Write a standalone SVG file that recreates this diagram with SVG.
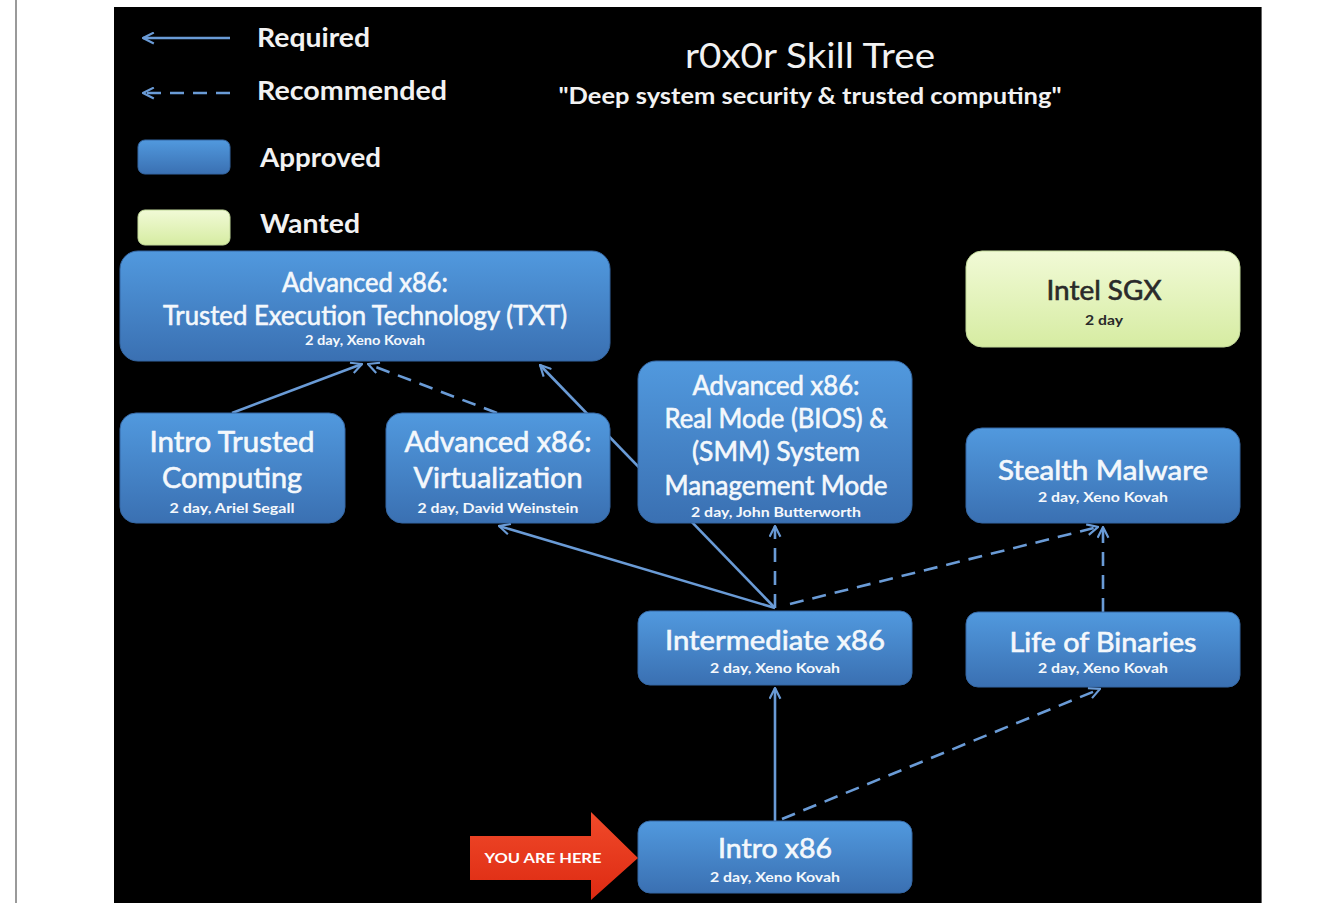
<svg xmlns="http://www.w3.org/2000/svg" width="1338" height="903" viewBox="0 0 1338 903">
<defs>
<linearGradient id="blue" x1="0" y1="0" x2="0" y2="1">
<stop offset="0" stop-color="#5199de"/>
<stop offset="1" stop-color="#3a70b2"/>
</linearGradient>
<linearGradient id="green" x1="0" y1="0" x2="0" y2="1">
<stop offset="0" stop-color="#f1fad6"/>
<stop offset="1" stop-color="#d6eca2"/>
</linearGradient>
<linearGradient id="red" x1="0" y1="0" x2="0" y2="1">
<stop offset="0" stop-color="#f04a2a"/>
<stop offset="1" stop-color="#dd2a12"/>
</linearGradient>
<marker id="ah" viewBox="0 0 12 12" refX="11" refY="6" markerWidth="5" markerHeight="5" orient="auto" markerUnits="strokeWidth">
<path d="M1,1 L11,6 L1,11" fill="none" stroke="#6a9bd6" stroke-width="2"/>
</marker>
</defs>
<style>
.bg{fill:#000}
.node{fill:url(#blue);stroke:#3567a3;stroke-width:1}
.want{fill:url(#green);stroke:#c2d99a;stroke-width:1}
.t{font-family:Lato,"Open Sans","Liberation Sans",sans-serif;fill:#f4f8fc;text-anchor:middle}
.big{font-size:28px;stroke:#f4f8fc;stroke-width:0.6}
.mid{font-size:26px;stroke:#f4f8fc;stroke-width:0.6}
.sm{font-size:12.5px;font-weight:bold}
.dark{fill:#2a2a2a;stroke:#2a2a2a}
.leg{font-family:Lato,"Open Sans","Liberation Sans",sans-serif;fill:#f2f2f2;font-size:27px;font-weight:bold}
.title{font-family:Lato,"Open Sans","Liberation Sans",sans-serif;fill:#f2f2f2;text-anchor:middle}
.c{fill:none;stroke:#6a9bd6;stroke-width:2.6;marker-end:url(#ah)}
.d{stroke-dasharray:14 9}
</style>
<rect x="0" y="0" width="1338" height="903" fill="#fff"/>
<rect x="15" y="0" width="2" height="903" fill="#9a9a9a"/>
<rect class="bg" x="114" y="7" width="1148" height="896"/>
<rect x="1261" y="7" width="1" height="896" fill="#666"/>

<g id="legend">
<line class="c" x1="230" y1="38" x2="143" y2="38"/>
<line class="c d" x1="230" y1="93" x2="143" y2="93" stroke-dasharray="12 10"/>
<rect class="node" x="138" y="140" width="92" height="34" rx="7"/>
<rect class="want" x="138" y="210" width="92" height="35" rx="7"/>
<text class="leg" x="257" y="47" textLength="113" lengthAdjust="spacingAndGlyphs">Required</text>
<text class="leg" x="257" y="100" textLength="190" lengthAdjust="spacingAndGlyphs">Recommended</text>
<text class="leg" x="260" y="167" textLength="121" lengthAdjust="spacingAndGlyphs">Approved</text>
<text class="leg" x="260" y="233" textLength="100" lengthAdjust="spacingAndGlyphs">Wanted</text>
</g>

<g id="title">
<text class="title" x="810" y="68" font-size="34" textLength="250" lengthAdjust="spacingAndGlyphs">r0x0r Skill Tree</text>
<text class="title" x="810" y="104" font-size="22" font-weight="bold" textLength="503" lengthAdjust="spacingAndGlyphs">"Deep system security &amp; trusted computing"</text>
</g>

<g id="connectors">
<line class="c" x1="232" y1="413" x2="362" y2="364"/>
<line class="c d" x1="497" y1="413" x2="368" y2="364"/>
<line class="c" x1="775" y1="608" x2="540" y2="365"/>
<line class="c" x1="775" y1="608" x2="499" y2="526"/>
<line class="c d" x1="775" y1="608" x2="775" y2="526"/>
<line class="c d" x1="790" y1="604" x2="1098" y2="527"/>
<line class="c d" x1="1103" y1="612" x2="1103" y2="527"/>
<line class="c" x1="775" y1="821" x2="775" y2="688"/>
<line class="c d" x1="782" y1="819" x2="1100" y2="689"/>
</g>

<g id="n-txt">
<rect class="node" x="120" y="251" width="490" height="110" rx="18"/>
<text class="t mid" x="365" y="292" textLength="166" lengthAdjust="spacingAndGlyphs">Advanced x86:</text>
<text class="t mid" x="365" y="325" textLength="404" lengthAdjust="spacingAndGlyphs">Trusted Execution Technology (TXT)</text>
<text class="t sm" x="365" y="345" textLength="120" lengthAdjust="spacingAndGlyphs">2 day, Xeno Kovah</text>
</g>

<g id="n-itc">
<rect class="node" x="120" y="413" width="225" height="110" rx="16"/>
<text class="t big" x="232" y="452" textLength="165" lengthAdjust="spacingAndGlyphs">Intro Trusted</text>
<text class="t big" x="232" y="488" textLength="140" lengthAdjust="spacingAndGlyphs">Computing</text>
<text class="t sm" x="232" y="513" textLength="125" lengthAdjust="spacingAndGlyphs">2 day, Ariel Segall</text>
</g>

<g id="n-virt">
<rect class="node" x="386" y="413" width="224" height="110" rx="16"/>
<text class="t big" x="498" y="452" textLength="187" lengthAdjust="spacingAndGlyphs">Advanced x86:</text>
<text class="t big" x="498" y="488" textLength="169" lengthAdjust="spacingAndGlyphs">Virtualization</text>
<text class="t sm" x="498" y="513" textLength="161" lengthAdjust="spacingAndGlyphs">2 day, David Weinstein</text>
</g>

<g id="n-bios">
<rect class="node" x="638" y="361" width="274" height="162" rx="18"/>
<text class="t mid" x="776" y="395" textLength="167" lengthAdjust="spacingAndGlyphs">Advanced x86:</text>
<text class="t mid" x="776" y="428" textLength="223" lengthAdjust="spacingAndGlyphs">Real Mode (BIOS) &amp;</text>
<text class="t mid" x="776" y="461" textLength="168" lengthAdjust="spacingAndGlyphs">(SMM) System</text>
<text class="t mid" x="776" y="495" textLength="223" lengthAdjust="spacingAndGlyphs">Management Mode</text>
<text class="t sm" x="776" y="517" textLength="170" lengthAdjust="spacingAndGlyphs">2 day, John Butterworth</text>
</g>

<g id="n-sgx">
<rect class="want" x="966" y="251" width="274" height="96" rx="16"/>
<text class="t mid dark" x="1104" y="300" textLength="115" lengthAdjust="spacingAndGlyphs">Intel SGX</text>
<text class="t sm" x="1104" y="325" fill="#2a2a2a" style="fill:#2a2a2a" font-weight="normal" textLength="38" lengthAdjust="spacingAndGlyphs">2 day</text>
</g>

<g id="n-stealth">
<rect class="node" x="966" y="428" width="274" height="95" rx="16"/>
<text class="t mid" x="1103" y="480" textLength="210" lengthAdjust="spacingAndGlyphs">Stealth Malware</text>
<text class="t sm" x="1103" y="502" textLength="130" lengthAdjust="spacingAndGlyphs">2 day, Xeno Kovah</text>
</g>

<g id="n-inter">
<rect class="node" x="638" y="611" width="274" height="74" rx="12"/>
<text class="t mid" x="775" y="650" textLength="220" lengthAdjust="spacingAndGlyphs">Intermediate x86</text>
<text class="t sm" x="775" y="673" textLength="130" lengthAdjust="spacingAndGlyphs">2 day, Xeno Kovah</text>
</g>

<g id="n-lob">
<rect class="node" x="966" y="612" width="274" height="75" rx="12"/>
<text class="t mid" x="1103" y="652" textLength="187" lengthAdjust="spacingAndGlyphs">Life of Binaries</text>
<text class="t sm" x="1103" y="673" textLength="130" lengthAdjust="spacingAndGlyphs">2 day, Xeno Kovah</text>
</g>

<g id="n-intro">
<rect class="node" x="638" y="821" width="274" height="72" rx="12"/>
<text class="t mid" x="775" y="858" textLength="114" lengthAdjust="spacingAndGlyphs">Intro x86</text>
<text class="t sm" x="775" y="882" textLength="130" lengthAdjust="spacingAndGlyphs">2 day, Xeno Kovah</text>
</g>

<g id="you-are-here">
<polygon points="470,836 591,836 591,812 638,858 591,900 591,880 470,880" fill="url(#red)"/>
<text x="543" y="863" font-family="Lato,'Liberation Sans',sans-serif" font-size="14" font-weight="bold" fill="#fff" text-anchor="middle" textLength="117" lengthAdjust="spacingAndGlyphs">YOU ARE HERE</text>
</g>
</svg>
